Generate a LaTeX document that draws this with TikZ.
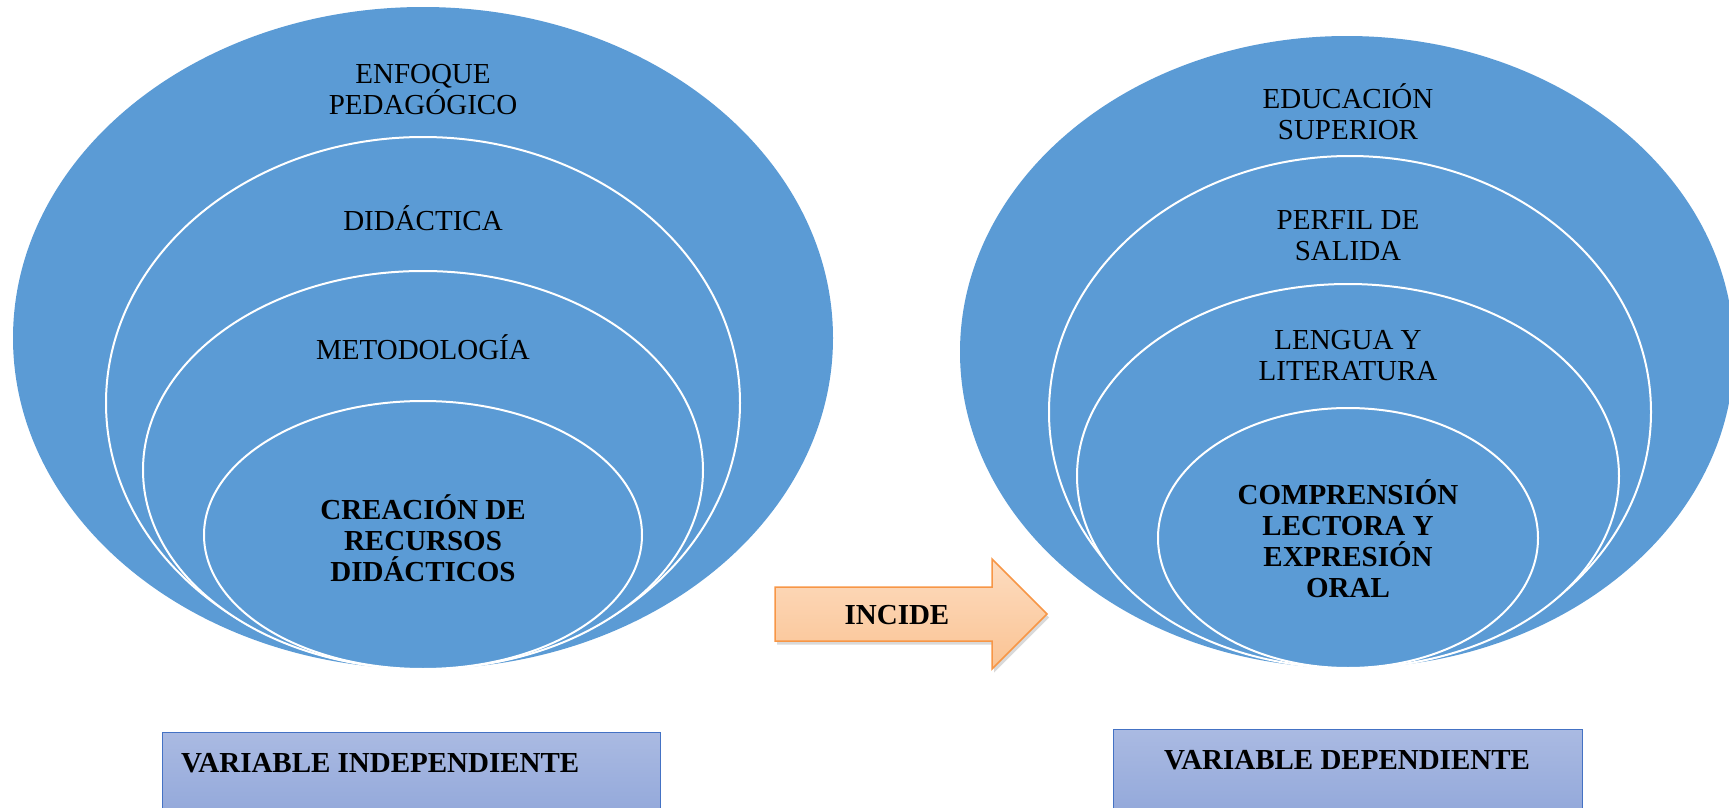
\documentclass[tikz,border=0pt]{standalone}
\usepackage{fontspec}
\setmainfont{Liberation Serif}
\usepackage{xcolor}
\usetikzlibrary{shadows}
\definecolor{capablue}{HTML}{5B9BD5}
\definecolor{flechaborde}{HTML}{F79646}
\definecolor{flechaarriba}{HTML}{FDDCC0}
\definecolor{flechaabajo}{HTML}{FAC393}
\definecolor{cajaborde}{HTML}{4472C4}
\definecolor{cajaarriba}{HTML}{AABAE2}
\definecolor{cajaabajo}{HTML}{8CA3D8}

\begin{document}
\begin{tikzpicture}[x=0.02cm, y=-0.02cm,
	capa/.style={fill=capablue, draw=white, line width=0.04cm},
	lbl/.style={align=center, font=\fontsize{16.5}{17.6}\selectfont},
	lblb/.style={lbl, font=\fontsize{16.5}{17.6}\selectfont\bfseries},
	caja/.style={draw=cajaborde, line width=0.02cm, top color=cajaarriba, bottom color=cajaabajo}]
	\useasboundingbox (0,0) rectangle (1729,808);
	% variable independiente
	\fill [capablue] (423,338) ellipse [x radius=410, y radius=331];
	\draw [capa] (423,403) ellipse [x radius=317, y radius=266];
	\draw [capa] (423,470) ellipse [x radius=280, y radius=199];
	\draw [capa] (423,535) ellipse [x radius=219, y radius=134];
	\node [lbl] (enfoque) at (423,90) {ENFOQUE\\PEDAGÓGICO};
	\node [lbl] (didactica) at (423,218) {DIDÁCTICA};
	\node [lbl] (metodo) at (423,347) {METODOLOGÍA};
	\node [lblb] (creacion) at (423,538) {CREACIÓN DE\\RECURSOS\\DIDÁCTICOS};
	% variable dependiente
	\fill [capablue] (1347,352) ellipse [x radius=387, y radius=316];
	\draw [capa] (1350,412) ellipse [x radius=301, y radius=256];
	\draw [capa] (1348,476) ellipse [x radius=271, y radius=192];
	\draw [capa] (1348,538) ellipse [x radius=190, y radius=130];
	\node [lbl] (educacion) at (1348,112) {EDUCACIÓN\\SUPERIOR};
	\node [lbl] (perfil) at (1348,236) {PERFIL DE\\SALIDA};
	\node [lbl] (lengua) at (1348,356) {LENGUA Y\\LITERATURA};
	\node [lblb] (comprension) at (1348,539) {COMPRENSIÓN\\LECTORA Y\\EXPRESIÓN\\ORAL};
	% flecha
	\draw [draw=flechaborde, line width=0.03cm, top color=flechaarriba, bottom color=flechaabajo,
		drop shadow={opacity=0.3, shadow xshift=0.04cm, shadow yshift=-0.07cm}]
		(775,587) -- (992,587) -- (992,559) -- (1047,614) -- (992,669) -- (992,641) -- (775,641) -- cycle;
	\node [lblb] (incide) at (897,615) {INCIDE};
	% cajas
	\draw [caja] (162,732) rectangle (660,840);
	\node [lblb, anchor=west] (vind) at (175,763) {VARIABLE INDEPENDIENTE};
	\draw [caja] (1113,729) rectangle (1582,840);
	\node [lblb] (vdep) at (1347,760) {VARIABLE DEPENDIENTE};
\end{tikzpicture}
\end{document}
